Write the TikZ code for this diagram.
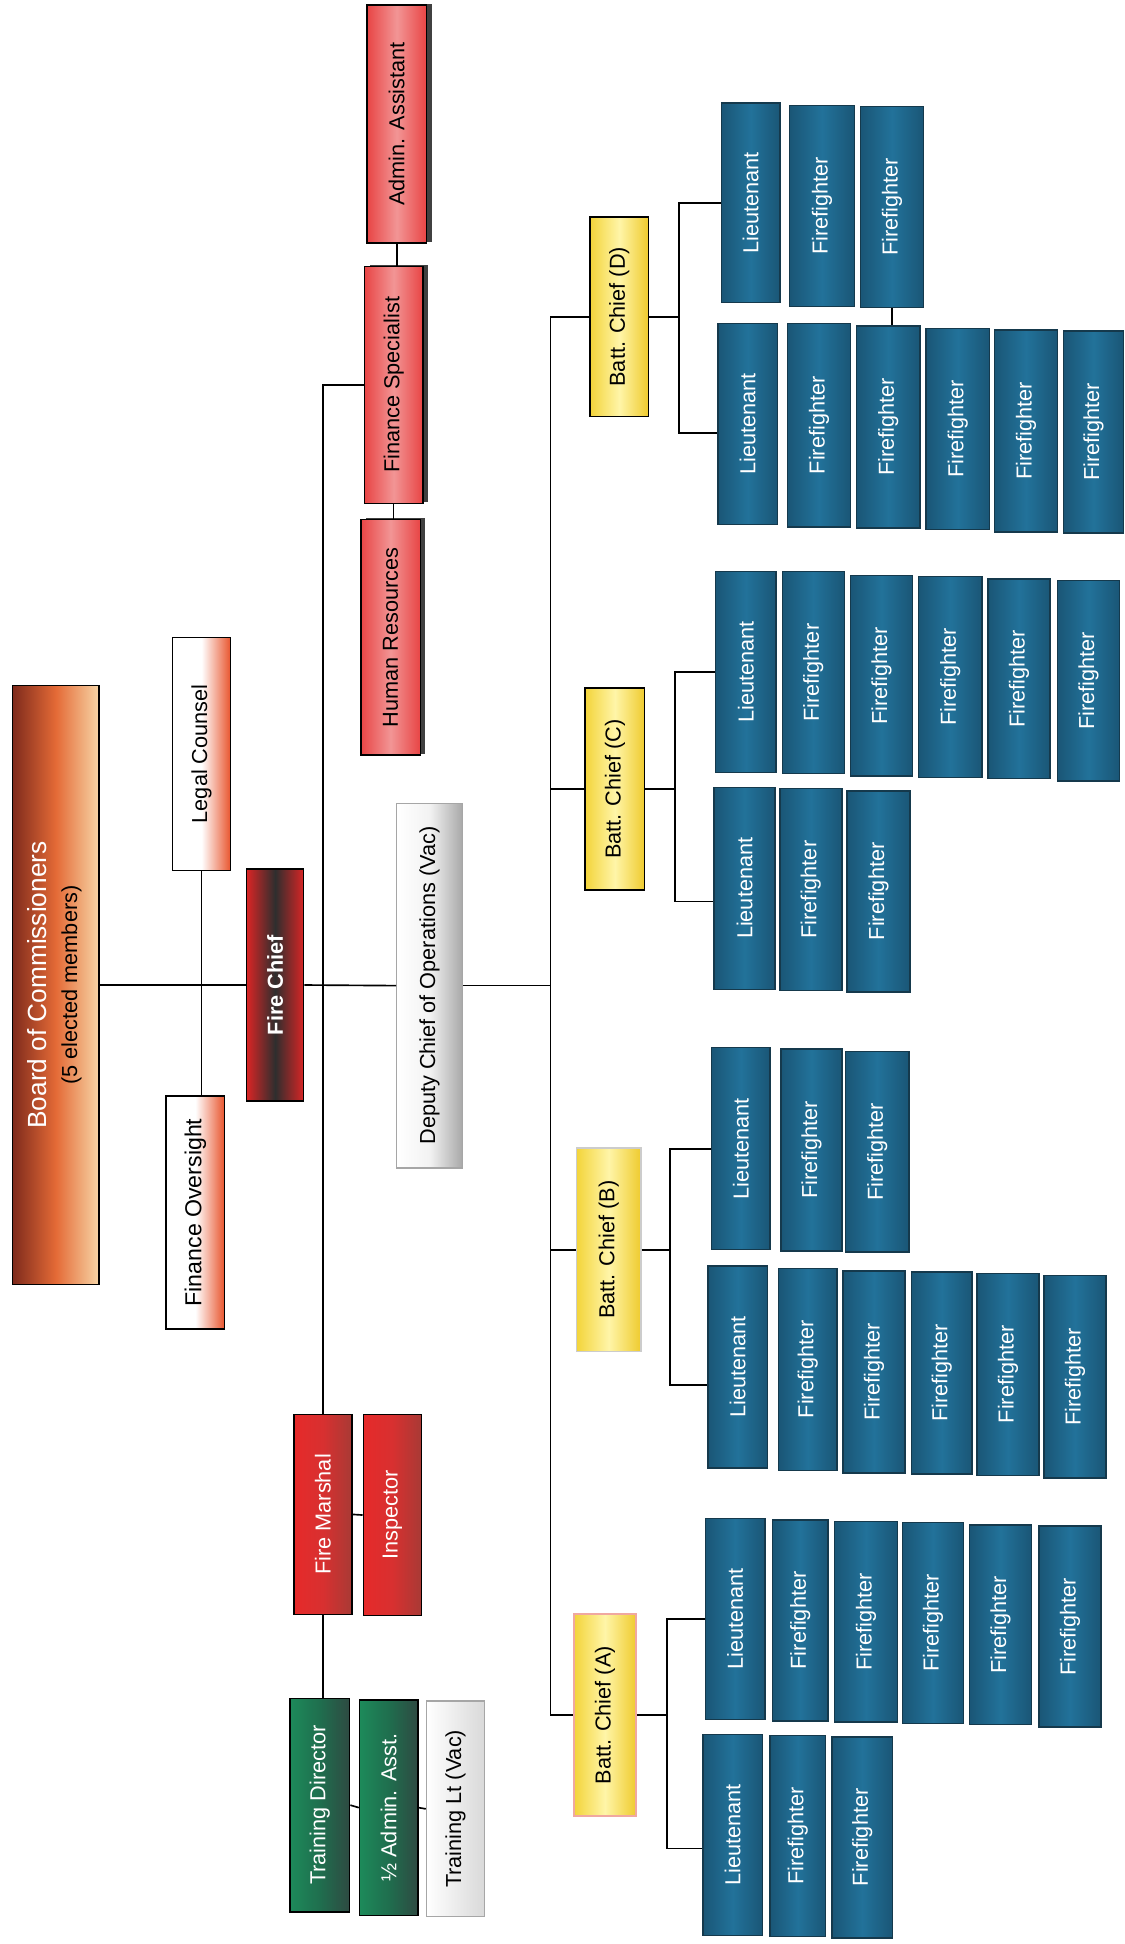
\documentclass[tikz,border=0pt]{standalone}
\usepackage{fontspec}
\setmainfont{Liberation Sans}
\usepackage{graphicx}
\usetikzlibrary{shadows}
\definecolor{crewA}{HTML}{1A5676}
\definecolor{crewB}{HTML}{22729A}
\definecolor{crewD}{HTML}{15394C}
\definecolor{yelA}{HTML}{F3D43A}
\definecolor{yelB}{HTML}{FFF5A8}
\definecolor{yelC}{HTML}{EFCB2E}
\definecolor{brdA}{HTML}{7E2A1C}
\definecolor{brdM}{HTML}{E46A36}
\definecolor{brdB}{HTML}{F7D5A6}
\definecolor{orgR}{HTML}{E8552E}
\definecolor{chiefR}{HTML}{D92525}
\definecolor{chiefD}{HTML}{2E2E2E}
\definecolor{pinkA}{HTML}{E84545}
\definecolor{pinkB}{HTML}{F29595}
\definecolor{marA}{HTML}{E62A2A}
\definecolor{marM}{HTML}{D83030}
\definecolor{marB}{HTML}{A83A35}
\definecolor{grnA}{HTML}{1D8A5A}
\definecolor{grnM}{HTML}{1F6E4E}
\definecolor{grnB}{HTML}{2E4A42}
\definecolor{depG}{HTML}{A8A8A8}
\definecolor{batA}{HTML}{F0A8A0}
\newcommand\orgbox[7]{\node[#2, minimum width={(#5-#3)*0.6pt}, minimum height={(#6-#4)*0.6pt}] (#1) at ({(#3+#5)/2},{(#4+#6)/2}) {\rotatebox{90}{#7}};}
\begin{document}
\begin{tikzpicture}[x=0.6pt,y=-0.6pt,
  box/.style={draw=black, line width=0.7pt, inner sep=0pt, align=center, font=\fontsize{10.5}{12}\selectfont},
  crew/.style={box, draw=crewD, left color=crewA, right color=crewA, middle color=crewB, text=white},
  batt/.style={box, left color=yelA, right color=yelC, middle color=yelB},
  board/.style={box, left color=brdA, right color=brdB, middle color=brdM},
  advisor/.style={box, left color=white, right color=orgR, middle color=white},
  firechief/.style={box, left color=chiefR, right color=chiefR, middle color=chiefD, text=white, font=\fontsize{10.5}{12}\selectfont\bfseries},
  admin/.style={box, left color=pinkA, right color=pinkA, middle color=pinkB,
     drop shadow={shadow xshift=2.5pt, shadow yshift=0.6pt, fill=black!75, opacity=1}},
  marshal/.style={box, left color=marA, right color=marB, middle color=marM, text=white},
  training/.style={box, left color=grnA, right color=grnB, middle color=grnM, text=white},
  vacant/.style={box, draw=gray!70, left color=white, right color=depG, middle color=white!90!gray},
  conn/.style={draw=black, line width=0.8pt}
]
\fill[white] (0,0) rectangle (907,1568);
\useasboundingbox (0,0) rectangle (907,1568);

% top management
\orgbox{board}{board}{10}{553}{80}{1036}{\begin{tabular}{@{}c@{}}{\color{white}\fontsize{12.7}{15}\selectfont Board of Commissioners}\\[3pt]{\fontsize{10.5}{12}\selectfont (5 elected members)}\end{tabular}}
\orgbox{lc}{advisor}{139}{514}{186}{702}{Legal Counsel}
\orgbox{fo}{advisor, font=\fontsize{11.2}{13}\selectfont}{134}{884}{181}{1072}{Finance Oversight}
\orgbox{fc}{firechief}{199}{701}{245}{888}{Fire Chief}
\orgbox{aa}{admin}{296}{4}{344}{196}{Admin. Assistant}
\orgbox{fs}{admin}{294}{215}{341}{406}{Finance Specialist}
\orgbox{hr}{admin}{291}{419}{339}{609}{Human Resources}
\orgbox{dep}{vacant}{320}{648}{373}{942}{Deputy Chief of Operations (Vac)}
\orgbox{fm}{marshal}{237}{1141}{284}{1302}{Fire Marshal}
\orgbox{insp}{marshal}{293}{1141}{340}{1303}{Inspector}
\orgbox{td}{training}{234}{1370}{282}{1542}{Training Director}
\orgbox{ha}{training}{290}{1371}{337}{1545}{½ Admin. Asst.}
\orgbox{tl}{vacant, right color=gray!30}{344}{1372}{391}{1546}{Training Lt (Vac)}

% battalion chiefs
\orgbox{bd}{batt}{476}{175}{523}{336}{Batt. Chief (D)}
\orgbox{bc}{batt}{472}{555}{520}{718}{Batt. Chief (C)}
\orgbox{bb}{batt, draw=black!20}{465}{926}{517}{1090}{Batt. Chief (B)}
\orgbox{ba}{batt, draw=batA, line width=1.1pt}{463}{1302}{513}{1465}{Batt. Chief (A)}

% crew D
\orgbox{d1l}{crew}{582}{83}{629}{244}{Lieutenant}
\orgbox{d1a}{crew}{637}{85}{689}{247}{Firefighter}
\orgbox{d1b}{crew}{694}{86}{745}{248}{Firefighter}
\orgbox{d2l}{crew}{579}{261}{627}{423}{Lieutenant}
\orgbox{d2a}{crew}{635}{261}{686}{425}{Firefighter}
\orgbox{d2b}{crew}{691}{263}{742}{426}{Firefighter}
\orgbox{d2c}{crew}{747}{265}{798}{427}{Firefighter}
\orgbox{d2d}{crew}{802}{266}{853}{429}{Firefighter}
\orgbox{d2e}{crew}{858}{267}{906}{430}{Firefighter}
% crew C
\orgbox{c1l}{crew}{577}{461}{626}{623}{Lieutenant}
\orgbox{c1a}{crew}{631}{461}{681}{624}{Firefighter}
\orgbox{c1b}{crew}{686}{464}{736}{626}{Firefighter}
\orgbox{c1c}{crew}{741}{465}{792}{627}{Firefighter}
\orgbox{c1d}{crew}{797}{467}{847}{628}{Firefighter}
\orgbox{c1e}{crew}{853}{468}{903}{630}{Firefighter}
\orgbox{c2l}{crew}{576}{635}{625}{798}{Lieutenant}
\orgbox{c2a}{crew}{629}{636}{679}{799}{Firefighter}
\orgbox{c2b}{crew}{683}{638}{734}{800}{Firefighter}
% crew B
\orgbox{b1l}{crew}{574}{845}{621}{1008}{Lieutenant}
\orgbox{b1a}{crew}{630}{846}{679}{1009}{Firefighter}
\orgbox{b1b}{crew}{682}{848}{733}{1010}{Firefighter}
\orgbox{b2l}{crew}{571}{1021}{619}{1184}{Lieutenant}
\orgbox{b2a}{crew}{628}{1023}{675}{1186}{Firefighter}
\orgbox{b2b}{crew}{680}{1025}{730}{1188}{Firefighter}
\orgbox{b2c}{crew}{735}{1026}{784}{1189}{Firefighter}
\orgbox{b2d}{crew}{788}{1027}{838}{1190}{Firefighter}
\orgbox{b2e}{crew}{842}{1029}{892}{1192}{Firefighter}
% crew A
\orgbox{a1l}{crew}{569}{1225}{617}{1387}{Lieutenant}
\orgbox{a1a}{crew}{623}{1226}{668}{1388}{Firefighter}
\orgbox{a1b}{crew}{673}{1227}{724}{1389}{Firefighter}
\orgbox{a1c}{crew}{728}{1228}{777}{1390}{Firefighter}
\orgbox{a1d}{crew}{782}{1230}{832}{1391}{Firefighter}
\orgbox{a1e}{crew}{838}{1231}{888}{1393}{Firefighter}
\orgbox{a2l}{crew}{567}{1399}{615}{1561}{Lieutenant}
\orgbox{a2a}{crew}{621}{1400}{666}{1562}{Firefighter}
\orgbox{a2b}{crew}{671}{1401}{720}{1563}{Firefighter}

% connectors: management
\draw[conn] (board.east) -- (fc.west);
\draw[conn] (fc.east) -- (dep.west);
\draw[conn] (lc.south) -- (lc.south |- fo.north);
\draw[conn] (aa.south) -- (aa.south |- fs.north);
\draw[conn] (fs.south) -- (fs.south |- hr.north);
\draw[conn] (fs.west) -| (fm.north);
\draw[conn] (fm.east) -- (insp.west);
\draw[conn] (fm.south) -- (fm.south |- td.north);
\draw[conn] (td.east) -- (ha.west);
\draw[conn] (ha.east) -- (tl.west);

% operations bus
\coordinate (bus) at (444,795);
\draw[conn] (dep.east) -- (bus);
\draw[conn] (bd.west) -| (bus) |- (ba.west);
\draw[conn] (bus |- bc.west) -- (bc.west);
\draw[conn] (bus |- bb.west) -- (bb.west);

% battalion branches
\draw[conn] (bd.east) -- ++(24,0) coordinate (dj);
\draw[conn] (d1l.west) -| (dj) |- ([yshift=-4.2pt]d2l.west);
\draw[conn] (d1b.south) -- (d1b.south |- d2b.north);
\draw[conn] (bc.east) -- ++(24,0) coordinate (cj);
\draw[conn] (c1l.west) -| (cj) |- ([yshift=-6.3pt]c2l.west);
\draw[conn] (bb.east) -- ++(23,0) coordinate (bj);
\draw[conn] (b1l.west) -| (bj) |- ([yshift=-8.7pt]b2l.west);
\draw[conn] (ba.east) -- ++(24,0) coordinate (aj);
\draw[conn] (a1l.west) -| (aj) |- ([yshift=-6.6pt]a2l.west);
\end{tikzpicture}
\end{document}
